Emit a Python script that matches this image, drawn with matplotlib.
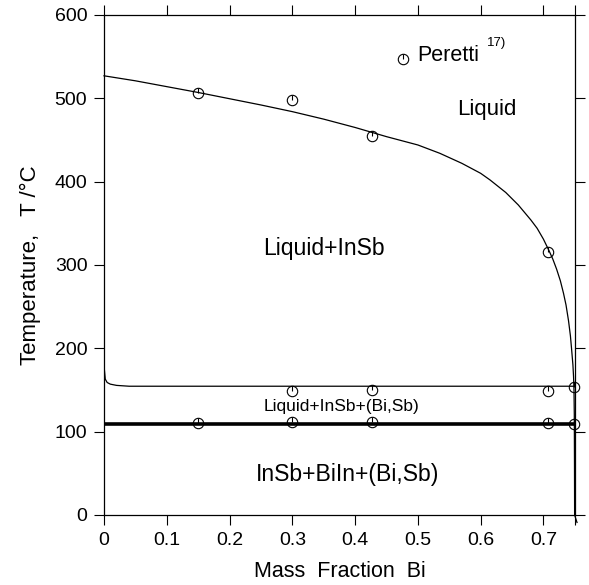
import matplotlib
matplotlib.use("Agg")
import matplotlib.pyplot as plt

plt.rcParams['font.family'] = ['Liberation Sans', 'DejaVu Sans']

# liquidus (InSb primary crystallisation)
liq_x = [0.0, 0.05, 0.10, 0.15, 0.20, 0.25, 0.30, 0.35, 0.40, 0.45, 0.50, 0.535,
         0.57, 0.60, 0.615, 0.64, 0.66, 0.68, 0.69, 0.70, 0.709, 0.715, 0.721,
         0.727, 0.732, 0.736, 0.740, 0.743, 0.745, 0.747, 0.748, 0.7487, 0.7492,
         0.7495, 0.7497, 0.7535]
liq_T = [527, 521, 514, 507, 499.5, 492, 484, 475, 465, 454, 444, 434,
         422, 410, 402, 387, 372, 354, 344, 331, 317, 307, 295,
         281, 266, 252, 233, 215, 198, 180, 166, 150, 120,
         60, 0, -9]

# ternary (Liquid+InSb+(Bi,Sb)) boundary
ter_x = [0.0, 0.0005, 0.002, 0.005, 0.01, 0.02, 0.04, 0.30, 0.60, 0.748]
ter_T = [205, 175, 163, 159, 157, 155.5, 154.5, 154.5, 154.5, 154.5]

# invariant line
inv_x = [0.0, 0.75]
inv_T = [109, 109]

# Peretti data points
per_x = [0.15, 0.30, 0.427, 0.708,
         0.30, 0.427, 0.708, 0.749,
         0.15, 0.30, 0.427, 0.708, 0.749]
per_T = [506, 498, 455, 315,
         149, 150, 149, 153,
         110, 111, 111, 110, 109]

xticks = [0, 0.1, 0.2, 0.3, 0.4, 0.5, 0.6, 0.7, 0.75]
xtick_labels = ['0', '0.1', '0.2', '0.3', '0.4', '0.5', '0.6', '0.7', '']
yticks = [0, 100, 200, 300, 400, 500, 600]

fig = plt.figure(figsize=(5.89, 5.85), dpi=100)
ax = fig.add_axes([0.1766, 0.1197, 0.7993, 0.8547])

ax.plot(liq_x, liq_T, color='black', lw=0.9, clip_on=False)
ax.plot(ter_x, ter_T, color='black', lw=0.9)
ax.plot(inv_x, inv_T, color='black', lw=2.6)

# marker: open circle with a stroke from centre to top
def peretti(x, y):
    ax.plot(x, y, ls='none', marker='o', ms=7.5, mfc='none', mec='black', mew=0.8, clip_on=False)
    ax.plot(x, y, ls='none', marker=[(0, 0), (0, 1)], ms=7.5, mec='black', mew=0.8, clip_on=False)

peretti(per_x, per_T)
peretti([0.4766], [547])
ax.text(0.499, 551, 'Peretti', fontsize=15.5, va='center', ha='left')
ax.text(0.6096, 566, '17)', fontsize=9.5, va='center', ha='left')

ax.text(0.61, 486, 'Liquid', fontsize=16, ha='center', va='center')
ax.text(0.350, 320, 'Liquid+InSb', fontsize=16.6, ha='center', va='center')
ax.text(0.378, 130, 'Liquid+InSb+(Bi,Sb)', fontsize=12.5, ha='center', va='center')
ax.text(0.388, 48, 'InSb+BiIn+(Bi,Sb)', fontsize=16.6, ha='center', va='center')

ax.set_xlim(0, 0.75)
ax.set_ylim(0, 600)
ax.set_xticks(xticks)
ax.set_xticklabels(xtick_labels)
ax.set_yticks(yticks)
ax.tick_params(direction='out', length=7, width=0.8, labelsize=14, pad=5,
               top=True, right=True)
for s in ax.spines.values():
    s.set_linewidth(0.9)

ax.set_xlabel('Mass  Fraction  Bi', fontsize=15.5, labelpad=9)
ax.set_ylabel('Temperature,   T /°C', fontsize=16, labelpad=10)

fig.savefig('out.png', dpi=100)
